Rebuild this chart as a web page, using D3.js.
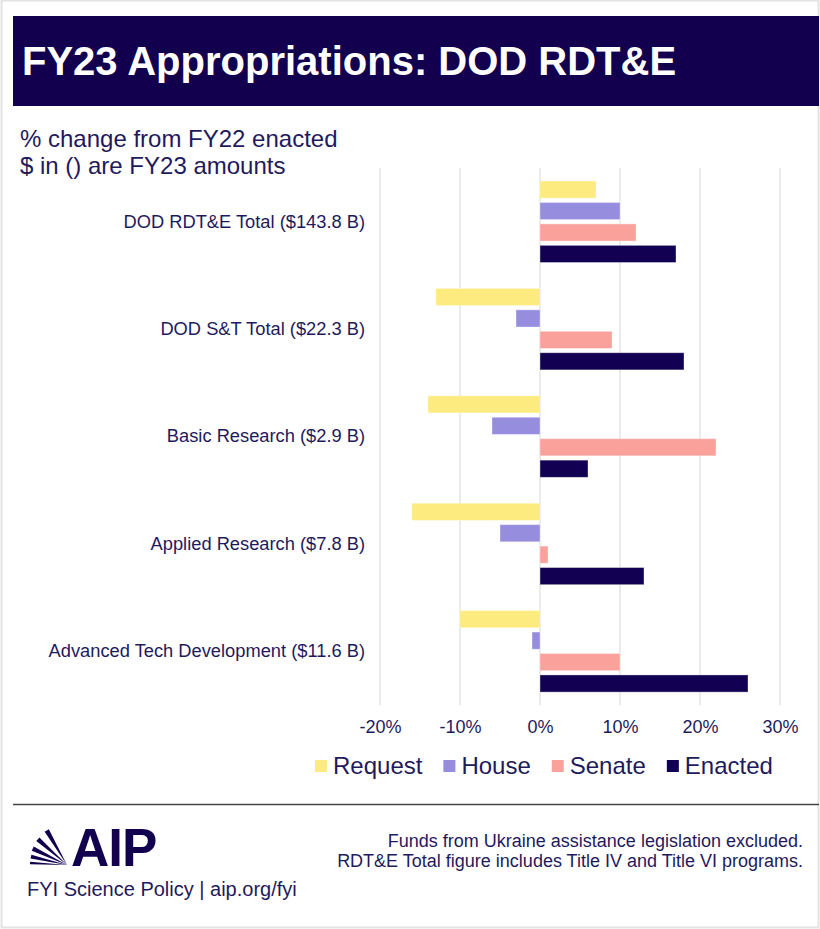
<!DOCTYPE html>
<html>
<head>
<meta charset="utf-8">
<script src="https://cdn.jsdelivr.net/npm/d3@7"></script>
<style>
  html, body { margin: 0; padding: 0; background: #fff; }
  svg { display: block; font-family: "Liberation Sans", Arial, sans-serif; }
</style>
</head>
<body>
<svg id="chart" width="820" height="929"></svg>
<script>
// ---- data ----
const categories = [
  "DOD RDT&E Total ($143.8 B)",
  "DOD S&T Total ($22.3 B)",
  "Basic Research ($2.9 B)",
  "Applied Research ($7.8 B)",
  "Advanced Tech Development ($11.6 B)"
];
const seriesNames = ["Request", "House", "Senate", "Enacted"];
const requestValues = [7, -13, -14, -16, -10];
const houseValues   = [10, -3, -6, -5, -1];
const senateValues  = [12, 9, 22, 1, 10];
const enactedValues = [17, 18, 6, 13, 26];
const tickValues = [-20, -10, 0, 10, 20, 30];
const seriesColors = ["#fdeb7f", "#968ddf", "#fba19c", "#120052"];

const seriesValues = [requestValues, houseValues, senateValues, enactedValues];
const rows = [];
categories.forEach((c, i) => {
  seriesNames.forEach((s, j) => rows.push({cat: c, series: s, value: seriesValues[j][i]}));
});

const navy = "#1f1a5c";
const svg = d3.select("#chart");

// outer frame
svg.append("rect").attr("x", 1.5).attr("y", 0.5).attr("width", 817).attr("height", 927)
  .attr("fill", "none").attr("stroke", "#e3e3e3").attr("stroke-width", 2);

// title band
svg.append("rect").attr("x", 13).attr("y", 16).attr("width", 806).attr("height", 90).attr("fill", "#12004f");
svg.append("text").attr("x", 22).attr("y", 75).attr("fill", "#fff")
  .attr("font-size", 40).attr("font-weight", "bold").text("FY23 Appropriations: DOD RDT&E");

// subtitle
svg.append("text").attr("x", 20).attr("y", 147).attr("fill", navy).attr("font-size", 24)
  .text("% change from FY22 enacted");
svg.append("text").attr("x", 20).attr("y", 174).attr("fill", navy).attr("font-size", 24)
  .text("$ in () are FY23 amounts");

// scales
const x = d3.scaleLinear().domain([-20, 30]).range([380, 780]);
const y0 = d3.scaleBand().domain(categories).range([168, 705]).padding(0);
const y1 = d3.scaleBand().domain(seriesNames).range([13, 94.5]).paddingInner(0.2);
const color = d3.scaleOrdinal().domain(seriesNames).range(seriesColors);

// gridlines
svg.append("g").selectAll("line").data(tickValues).join("line")
  .attr("x1", d => x(d)).attr("x2", d => x(d))
  .attr("y1", 168).attr("y2", 705)
  .attr("stroke", "#dedede").attr("stroke-width", 1.2);

// bars
svg.append("g").selectAll("rect").data(rows).join("rect")
  .attr("x", d => x(Math.min(0, d.value)))
  .attr("width", d => Math.abs(x(d.value) - x(0)))
  .attr("y", d => y0(d.cat) + y1(d.series))
  .attr("height", y1.bandwidth())
  .attr("fill", d => color(d.series))
  .attr("stroke", "#ffffff").attr("stroke-opacity", 0.45).attr("stroke-width", 0.8);

// x axis
const xAxis = svg.append("g").attr("transform", "translate(0,705)")
  .call(d3.axisBottom(x).tickValues(tickValues).tickFormat(d => d + "%").tickSize(0).tickPadding(15));
xAxis.select(".domain").remove();
xAxis.selectAll("text").attr("fill", navy).attr("font-size", 18).attr("font-family", "Liberation Sans, Arial, sans-serif");

// category axis
const yAxis = svg.append("g").attr("transform", "translate(365,0)")
  .call(d3.axisLeft(y0).tickSize(0).tickPadding(0));
yAxis.select(".domain").remove();
yAxis.selectAll("text").attr("fill", navy).attr("font-size", 18.3).attr("font-family", "Liberation Sans, Arial, sans-serif");

// legend
const legend = svg.append("g");
let lx = 315;
seriesNames.forEach((s, i) => {
  legend.append("rect").attr("x", lx).attr("y", 760).attr("width", 12).attr("height", 12).attr("fill", color(s));
  const t = legend.append("text").attr("x", lx + 18).attr("y", 774).attr("fill", navy).attr("font-size", 24).text(s);
  lx += 18 + t.node().getComputedTextLength() + 21;
});

// footer rule
svg.append("line").attr("x1", 13).attr("x2", 819).attr("y1", 804.5).attr("y2", 804.5)
  .attr("stroke", "#444").attr("stroke-width", 1.3);

// AIP logo fan
const fan = svg.append("g").attr("fill", "#12004f");
const ox = 67, oy = 865;
const fanAngles = [[117, 124], [135, 142], [151, 158], [164, 170], [175, 179]];
const fanLen = [40, 39, 38, 37, 37];
fanAngles.forEach((a, i) => {
  const r = fanLen[i];
  const p1 = [ox + r * Math.cos(a[0] * Math.PI / 180), oy - r * Math.sin(a[0] * Math.PI / 180)];
  const p2 = [ox + r * Math.cos(a[1] * Math.PI / 180), oy - r * Math.sin(a[1] * Math.PI / 180)];
  fan.append("path").attr("d", `M${ox},${oy}L${p1[0]},${p1[1]}L${p2[0]},${p2[1]}Z`);
});
svg.append("text").attr("x", 71).attr("y", 866).attr("fill", "#12004f").attr("font-size", 53)
  .attr("font-weight", "bold").attr("letter-spacing", -1).text("AIP");
svg.append("text").attr("x", 27).attr("y", 896).attr("fill", navy).attr("font-size", 20)
  .text("FYI Science Policy | aip.org/fyi");

// notes
svg.append("text").attr("x", 803).attr("y", 847).attr("text-anchor", "end").attr("fill", navy).attr("font-size", 18)
  .text("Funds from Ukraine assistance legislation excluded.");
svg.append("text").attr("x", 803).attr("y", 867).attr("text-anchor", "end").attr("fill", navy).attr("font-size", 18)
  .text("RDT&E Total figure includes Title IV and Title VI programs.");
</script>
</body>
</html>
